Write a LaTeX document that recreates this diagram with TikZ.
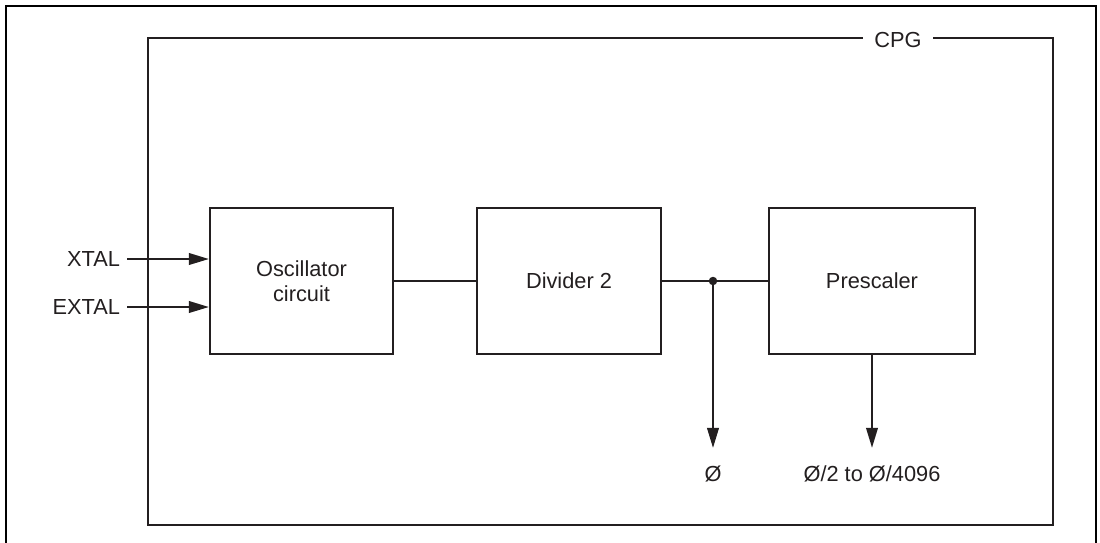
\documentclass[tikz,border=0pt]{standalone}
\usepackage{fontspec}
\setmainfont{Liberation Sans}
\usetikzlibrary{arrows.meta}
\definecolor{ink}{HTML}{231F20}

\begin{document}
\begin{tikzpicture}[x=0.02cm,y=-0.02cm,line width=1.25pt,color=ink,
  >={Triangle[length=4mm,width=2.3mm]},
  font=\fontsize{12.4}{14.5}\selectfont,
  blk/.style={draw,minimum height=2.92cm,inner sep=0pt,align=center},
  outlbl/.style={shorten >=0.22cm}]
\useasboundingbox (0,0) rectangle (1100,542);
% ================= frames =================
\draw[line width=1.6pt,black] (6,548) |- (1096,6) -- (1096,548);
\draw (148,38) rectangle (1053,525);
\node[fill=white,inner xsep=0.22cm,inner ysep=0pt] (cpg) at (898,40) {CPG};
% ================= blocks =================
\node[blk,minimum width=3.66cm] (osc) at (301.5,281) {Oscillator\\circuit};
\node[blk,minimum width=3.68cm] (div) at (569,281) {Divider 2};
\node[blk,minimum width=4.12cm] (pre) at (872,281) {Prescaler};
% inputs
\node[anchor=east] (xtal) at (127,259) {XTAL};
\node[anchor=east] (extal) at (127,307) {EXTAL};
\draw[->] (xtal) -- (xtal -| osc.west);
\draw[->] (extal) -- (extal -| osc.west);
% chain
\coordinate (jn) at (713,281);
\draw (osc) -- (div);
\draw (div) -- (pre);
\fill (jn) circle (0.085cm);
% ================= outputs =================
\node (phi) at (713,474) {Ø};
\node (phin) at (872,474) {Ø/2 to Ø/4096};
\draw[->,outlbl] (jn) -- (phi);
\draw[->,outlbl] (pre.south) -- (phin);
\end{tikzpicture}
\end{document}
